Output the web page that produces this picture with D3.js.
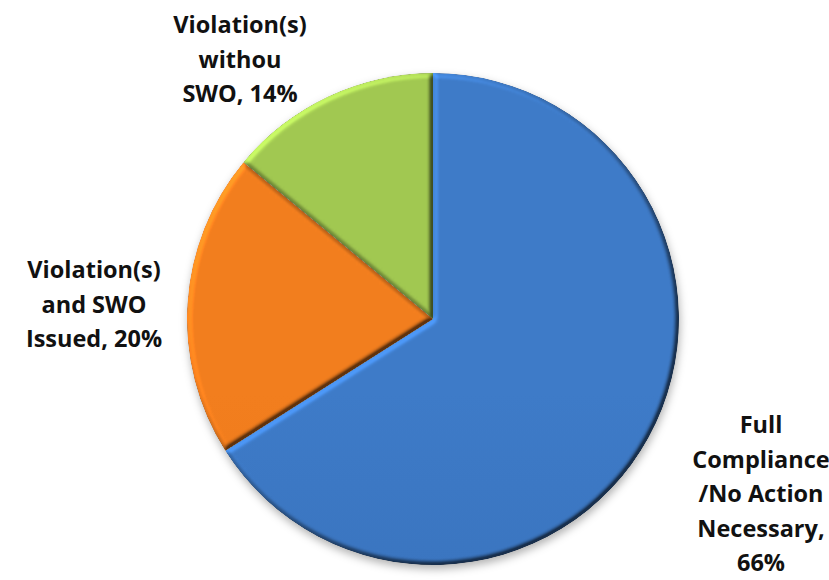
<!DOCTYPE html>
<html>
<head>
<meta charset="utf-8">
<script src="https://cdn.jsdelivr.net/npm/d3@7/dist/d3.min.js"></script>
<style>
  html, body { margin: 0; padding: 0; background: #ffffff; }
  svg { display: block; }
  .label { font-family: "Open Sans", "DejaVu Sans", sans-serif; font-weight: 700; font-size: 23.5px; fill: #111111; }
</style>
</head>
<body>
<svg id="chart" width="829" height="580"></svg>
<script>
// Inspection outcomes (share of inspections, %)
const categories = [
  "Full Compliance /No Action Necessary",
  "Violation(s) and SWO Issued",
  "Violation(s) withou SWO"
];
const values = [66, 20, 14];
// Category names broken into label lines
const nameLines = [
  ["Full", "Compliance", "/No Action", "Necessary"],
  ["Violation(s)", "and SWO", "Issued"],
  ["Violation(s)", "withou", "SWO"]
];
const baseColors = ["#346bb2", "#ea7413", "#8fb744"];
const topColors  = ["#3e7bc8", "#f27e1e", "#a1c851"];

// Layout
const W = 829, H = 580;
const cx = 433, cy = 319, R = 246;
const lineHeight = 34.5;
const maxLabelWidth = 142;
// label block anchor: centre x, first baseline y
const labelAnchors = [
  { x: 761, y: 433 },
  { x: 94,  y: 278 },
  { x: 240, y: 33 }
];

const svg = d3.select("#chart");
const defs = svg.append("defs");

// soft outer shadow
const shadow = defs.append("filter").attr("id", "shadow")
  .attr("x", "-10%").attr("y", "-10%").attr("width", "120%").attr("height", "120%")
  .attr("color-interpolation-filters", "sRGB");
shadow.append("feGaussianBlur").attr("in", "SourceAlpha").attr("stdDeviation", 4).attr("result", "b");
shadow.append("feOffset").attr("in", "b").attr("dx", 1).attr("dy", 4).attr("result", "o");
shadow.append("feFlood").attr("flood-color", "#000").attr("flood-opacity", 0.3).attr("result", "f");
shadow.append("feComposite").attr("in", "f").attr("in2", "o").attr("operator", "in").attr("result", "s");
const sm = shadow.append("feMerge");
sm.append("feMergeNode").attr("in", "s");
sm.append("feMergeNode").attr("in", "SourceGraphic");

// bevel lighting for each slice
const bevel = defs.append("filter").attr("id", "bevel")
  .attr("x", "-5%").attr("y", "-5%").attr("width", "110%").attr("height", "110%")
  .attr("color-interpolation-filters", "sRGB");
bevel.append("feGaussianBlur").attr("in", "SourceAlpha").attr("stdDeviation", 2.5).attr("result", "blur");
const diff = bevel.append("feDiffuseLighting").attr("in", "blur")
  .attr("surfaceScale", 5).attr("diffuseConstant", 1).attr("lighting-color", "#ffffff").attr("result", "light");
diff.append("feDistantLight").attr("azimuth", 225).attr("elevation", 45);
bevel.append("feComposite").attr("in", "SourceGraphic").attr("in2", "light")
  .attr("operator", "arithmetic").attr("k1", 0.85).attr("k2", 0.4).attr("k3", 0).attr("k4", 0).attr("result", "lit");
bevel.append("feComposite").attr("in", "lit").attr("in2", "SourceAlpha").attr("operator", "in");

// vertical shading per slice
values.forEach((v, i) => {
  const g = defs.append("linearGradient").attr("id", "grad" + i)
    .attr("gradientUnits", "userSpaceOnUse")
    .attr("x1", 0).attr("y1", cy - R).attr("x2", 0).attr("y2", cy + R);
  g.append("stop").attr("offset", "0%").attr("stop-color", topColors[i]);
  g.append("stop").attr("offset", "100%").attr("stop-color", baseColors[i]);
});

const pie = d3.pie().sort(null).value(d => d)(values);
const arc = d3.arc().innerRadius(0).outerRadius(R);

const gPie = svg.append("g").attr("transform", `translate(${cx},${cy})`).attr("filter", "url(#shadow)");
gPie.selectAll("path.slice")
  .data(pie)
  .join("path")
  .attr("class", "slice")
  .attr("d", arc)
  .attr("fill", (d, i) => `url(#grad${i})`)
  .attr("filter", "url(#bevel)");

// Data labels: category name and percentage, wrapped to the label width
const measure = svg.append("text").attr("class", "label").attr("visibility", "hidden");
function textWidth(s) { measure.text(s); return measure.node().getComputedTextLength(); }

const gLabels = svg.append("g");
categories.forEach((c, i) => {
  const lines = nameLines[i].slice();
  const last = lines.pop() + ",";
  const pct = values[i] + "%";
  if (textWidth(last + " " + pct) <= maxLabelWidth) {
    lines.push(last + " " + pct);
  } else {
    lines.push(last, pct);
  }
  const t = gLabels.append("text").attr("class", "label")
    .attr("text-anchor", "middle")
    .attr("x", labelAnchors[i].x).attr("y", labelAnchors[i].y);
  lines.forEach((ln, k) => {
    t.append("tspan").attr("x", labelAnchors[i].x).attr("dy", k === 0 ? 0 : lineHeight).text(ln);
  });
});
measure.remove();
</script>
</body>
</html>
